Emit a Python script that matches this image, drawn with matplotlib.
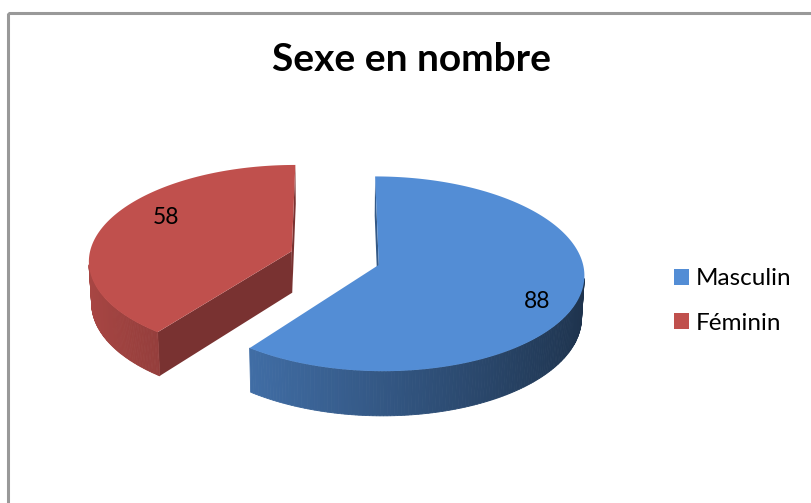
import numpy as np
import matplotlib.pyplot as plt
from matplotlib.patches import Polygon, Patch, Rectangle

# data
labels = ['Masculin', 'Féminin']
values = [88, 58]
colors = ['#538dd5', '#c0504d']
title = 'Sexe en nombre'

plt.rcParams['font.family'] = ['Lato', 'DejaVu Sans']

W, H = 811, 503
fig = plt.figure(figsize=(W / 100, H / 100), dpi=100)
ax = fig.add_axes([0, 0, 1, 1])
ax.set_xlim(0, W)
ax.set_ylim(H, 0)
ax.axis('off')

# chart frame (cut at right/bottom like the screenshot)
ax.add_patch(Rectangle((8, 13), 820, 520, fill=False, ec='#999999', lw=2.2))

# 3D pie layout: unit radius pie seen from a camera with perspective
cx, cy = 335, 258        # screen position of the pie centre
k = 203                  # pixels per unit radius
elev = np.deg2rad(28)
D = 9.7                  # camera distance
h = 0.235                # thickness
explode = 0.226
label_pos = [(0.83, -8.0), (0.75, -11.0)]   # (radius, angle shift in deg)

cam = np.array([0.0, -D * np.cos(elev), D * np.sin(elev)])


def proj(X, Y, Z=0.0):
    up = Y * np.sin(elev) + Z * np.cos(elev)
    fwd = D + Y * np.cos(elev) - Z * np.sin(elev)
    s = D / fwd
    return (cx + k * X * s, cy - k * up * s)


def rgb(c):
    c = c.lstrip('#')
    return np.array([int(c[i:i + 2], 16) for i in (0, 2, 4)]) / 255


def shade(c, f):
    return tuple(np.clip(rgb(c) * f, 0, 1))


def facing(n, p):
    return n[0] * (cam[0] - p[0]) + n[1] * (cam[1] - p[1]) > 0


total = sum(values)
start = np.deg2rad(90)
for val, col, (lr, lda), lab in zip(values, colors, label_pos, labels):
    span = 2 * np.pi * val / total
    t0, t1 = start - span, start          # clockwise from the top
    mid = (t0 + t1) / 2
    ox, oy = explode * np.cos(mid), explode * np.sin(mid)

    # radial walls facing the camera
    for t, side in ((t0, 1), (t1, -1)):
        n = (side * np.sin(t), -side * np.cos(t))
        rim = (ox + np.cos(t), oy + np.sin(t))
        if facing(n, (ox, oy)):
            poly = [proj(ox, oy), proj(*rim), proj(*rim, -h), proj(ox, oy, -h)]
            ax.add_patch(Polygon(poly, closed=True, fc=shade(col, 0.63), ec='none'))

    # outer wall with a left-to-right shading
    ts = np.linspace(t0, t1, 240)
    for a, b in zip(ts[:-1], ts[1:]):
        m = (a + b) / 2
        p = (ox + np.cos(m), oy + np.sin(m))
        if not facing((np.cos(m), np.sin(m)), p):
            continue
        f = 0.62 - 0.26 * np.cos(m)
        pa = (ox + np.cos(a), oy + np.sin(a))
        pb = (ox + np.cos(b), oy + np.sin(b))
        poly = [proj(*pa), proj(*pb), proj(*pb, -h), proj(*pa, -h)]
        ax.add_patch(Polygon(poly, closed=True, fc=shade(col, f), ec=shade(col, f), lw=0.6))

    # top face
    top = [proj(ox, oy)] + [proj(ox + np.cos(t), oy + np.sin(t)) for t in ts]
    ax.add_patch(Polygon(top, closed=True, fc=col, ec='none'))

    # data label
    la = mid + np.deg2rad(lda)
    lx, ly = proj(ox + lr * np.cos(la), oy + lr * np.sin(la))
    ax.text(lx, ly, str(val), ha='center', va='center', fontsize=16.5, color='black')

    start = t0

ax.text(412, 59, title, ha='center', va='center', fontsize=28, fontweight='bold')

handles = [Patch(fc=c, ec='none') for c in colors]
fig.legend(handles, labels, loc='center left', bbox_to_anchor=(674 / W, 1 - 301 / H),
           frameon=False, fontsize=17.5, handlelength=0.6, handleheight=0.6,
           handletextpad=0.3, labelspacing=0.95, borderpad=0, borderaxespad=0)

fig.savefig('out.png', dpi=100)
